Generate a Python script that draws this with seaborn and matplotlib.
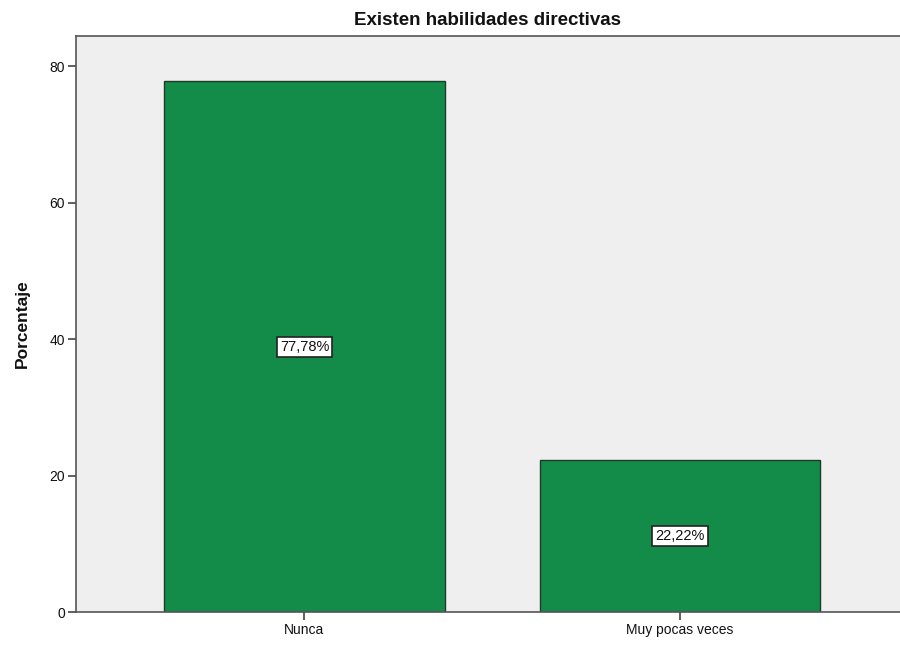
import matplotlib
matplotlib.use("Agg")
import matplotlib.pyplot as plt
import seaborn as sns
import pandas as pd

categories = ["Nunca", "Muy pocas veces"]
values = [77.78, 22.22]
labels = ["77,78%", "22,22%"]

sns.set_style("white")
plt.rcParams['font.family'] = ['Liberation Sans', 'DejaVu Sans']

df = pd.DataFrame({"cat": categories, "val": values})

fig = plt.figure(figsize=(9, 6.46), dpi=100)
ax = fig.add_axes([76/900, 34/646, (900-76)/900, (612-36)/646])
ax.set_facecolor("#efefef")

sns.barplot(data=df, x="cat", y="val", ax=ax, color="#128c48", saturation=1,
            width=0.748, edgecolor="#1e3a28", linewidth=1.0)

for i, (v, lab) in enumerate(zip(values, labels)):
    ax.text(i, v / 2, lab, ha="center", va="center", fontsize=10.5, color="#111111",
            bbox=dict(boxstyle="square,pad=0.2", facecolor="white", edgecolor="#222222", linewidth=1.2))

ax.set_xlim(-0.6085, 1.586)
ax.set_ylim(0, 84.4)
ax.set_yticks([0, 20, 40, 60, 80])
ax.tick_params(axis="both", which="both", length=6, width=1.2, color="#444444",
               labelsize=10, labelcolor="#111111", left=True, bottom=True, pad=2)
ax.set_xlabel("")
ax.set_ylabel("Porcentaje", fontsize=12.5, fontweight="bold", labelpad=14, color="#111111")
ax.set_title("Existen habilidades directivas", fontsize=13.5, fontweight="bold", pad=8, color="#111111")

for s in ["left", "bottom", "top"]:
    ax.spines[s].set_visible(True)
    ax.spines[s].set_color("#555555")
    ax.spines[s].set_linewidth(1.2)
ax.spines["right"].set_visible(False)

fig.savefig("out.png", dpi=100)
